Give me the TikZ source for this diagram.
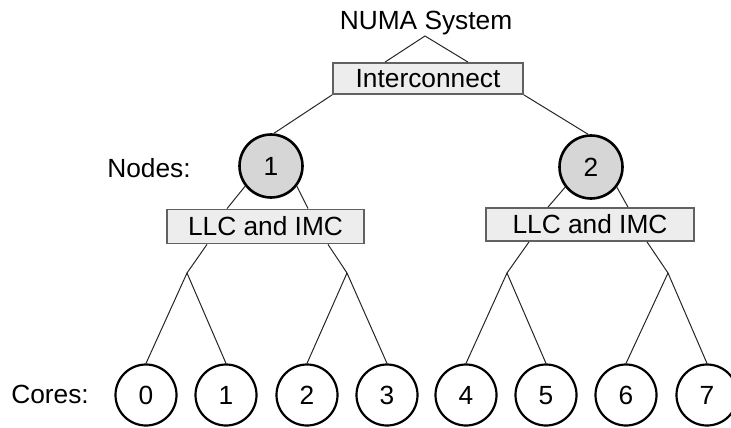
\documentclass[tikz,border=0pt]{standalone}
\usepackage{fontspec}
\setmainfont{Liberation Sans}
\begin{document}
\begin{tikzpicture}[x=1pt,y=-1pt,
  every node/.style={font=\fontsize{26.3}{30}\selectfont, text height=18.8pt, text depth=0pt, inner sep=0pt},
  box/.style={draw=black!62, line width=1.8pt, fill=black!7, rectangle},
  numanode/.style={draw=black, line width=2.6pt, fill=black!16, circle, minimum size=63pt},
  core/.style={draw=black, line width=2.2pt, fill=white, circle, minimum size=61pt},
  link/.style={line width=1pt, black!85}]
\useasboundingbox (0,0) rectangle (731,428);

% labels
\node (sys) at (426,20) {NUMA System};
\node (nodeslbl) at (149,168) {Nodes:};
\node (coreslbl) at (50,394) {Cores:};

% interconnect
\node[box, minimum width=190pt, minimum height=31pt] (ic) at (428,78.5) {Interconnect};
\coordinate (apex) at (425,36);
\draw[link] (apex) -- (ic.north -| 385,0);
\draw[link] (apex) -- (ic.north -| 468,0);

% numa nodes
\node[numanode] (n1) at (271,166) {1};
\node[numanode] (n2) at (591,167) {2};
\draw[link] (ic.south west) -- (n1.85);
\draw[link] (ic.south east) -- (n2.95);

% LLC boxes
\node[box, minimum width=197pt, minimum height=34pt] (l1) at (265.5,226.5) {LLC and IMC};
\node[box, minimum width=208pt, minimum height=33pt] (l2) at (590,224.5) {LLC and IMC};
\draw[link] (n1.218) -- (l1.north -| 227,0);
\draw[link] (n1.-38) -- (l1.north -| 308,0);
\draw[link] (n2.218) -- (l2.north -| 548,0);
\draw[link] (n2.-38) -- (l2.north -| 628,0);

% branch points
\coordinate (b1) at (187,273);
\coordinate (b2) at (347,273);
\coordinate (b3) at (507,273);
\coordinate (b4) at (668,273);
\draw[link] (l1.south -| 207,0) -- (b1);
\draw[link] (l1.south -| 328,0) -- (b2);
\draw[link] (l2.south -| 529,0) -- (b3);
\draw[link] (l2.south -| 647,0) -- (b4);

% cores
\foreach \i/\x in {0/146,1/226,2/307,3/387,4/466,5/546,6/626,7/707}{
  \node[core] (c\i) at (\x,395) {\i};
}
\draw[link] (b1) -- (c0.north);
\draw[link] (b1) -- (c1.north);
\draw[link] (b2) -- (c2.north);
\draw[link] (b2) -- (c3.north);
\draw[link] (b3) -- (c4.north);
\draw[link] (b3) -- (c5.north);
\draw[link] (b4) -- (c6.north);
\draw[link] (b4) -- (c7.north);
\end{tikzpicture}
\end{document}
